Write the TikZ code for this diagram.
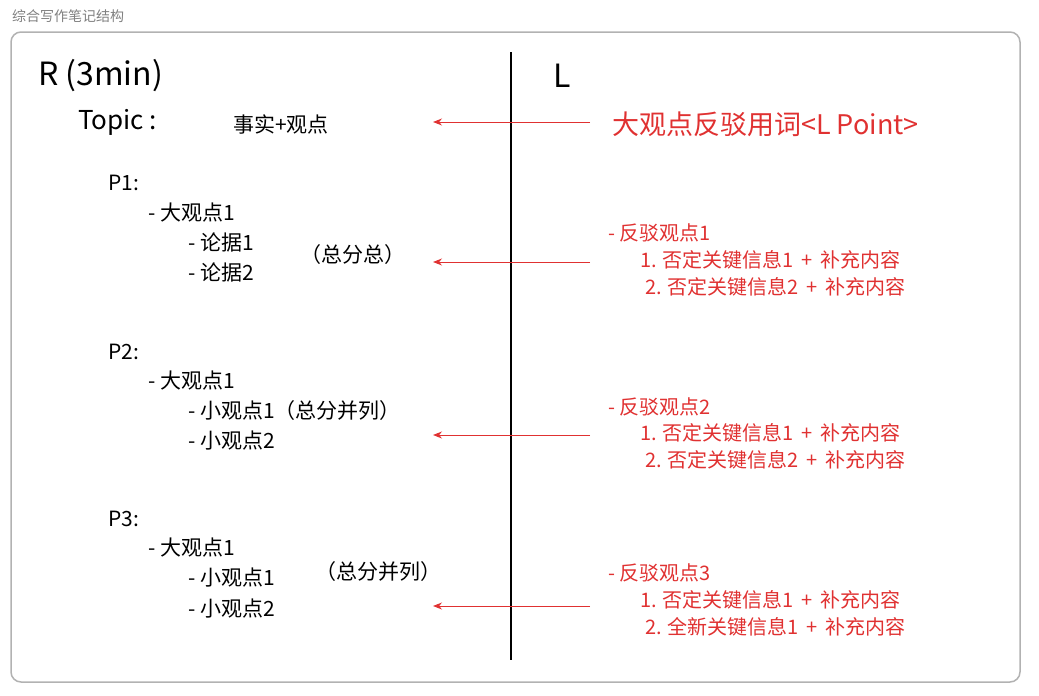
\documentclass[tikz,border=0pt]{standalone}
\usepackage{fontspec}
\setmainfont{Noto Sans CJK SC}
\usetikzlibrary{arrows.meta}
\definecolor{myred}{HTML}{E03131}
\begin{document}
\begin{tikzpicture}[x=1pt,y=-1pt,
  t/.style={anchor=west,inner sep=0pt,font=\fontsize{21}{21}\selectfont},
  r/.style={t,text=myred,font=\fontsize{20}{20}\selectfont},
  arr/.style={myred,line width=1pt,-{Stealth[length=9pt,width=7pt]}}]
\useasboundingbox (0,0) rectangle (1039,696);
\node[anchor=west,inner sep=0pt,text=gray,font=\fontsize{14}{14}\selectfont] (title) at (12,16) {综合写作笔记结构};
\draw[gray!60,line width=1.5pt,rounded corners=10pt] (11,32) rectangle (1020,682);
\coordinate (vt) at (511,52); \coordinate (vb) at (511,660);
\draw[line width=1.2pt] (vt) -- (vb);
\node[t,font=\fontsize{32}{32}\selectfont] (R) at (38,76) {R (3min)};
\node[t,font=\fontsize{32}{32}\selectfont] (L) at (553,76) {L};
\node[t,font=\fontsize{26}{26}\selectfont] (topic) at (78,122) {Topic :};
\node[t] (fact) at (233,124) {事实+观点};
\node[t,text=myred,font=\fontsize{27}{27}\selectfont] (lp) at (612,124) {大观点反驳用词<L Point>};
\coordinate (a0s) at (590,122); \coordinate (a0e) at (433,122);
\draw[arr] (a0s) -- (a0e);
% P1
\node[t] (p1) at (108,183) {P1:};
\node[t] (p1a) at (148,213) {- 大观点1};
\node[t] (p1b) at (188,243) {- 论据1};
\node[t] (p1c) at (188,273) {- 论据2};
\node[t] (p1d) at (300,255) {（总分总）};
\node[r] (r1) at (608,233) {- 反驳观点1};
\node[r] (r1a) at (640,260) {1. 否定关键信息1 \,+\, 补充内容};
\node[r] (r1b) at (645,287) {2. 否定关键信息2 \,+\, 补充内容};
\coordinate (a1s) at (590,262); \coordinate (a1e) at (433,262);
\draw[arr] (a1s) -- (a1e);
% P2
\node[t] (p2) at (108,352) {P2:};
\node[t] (p2a) at (148,381) {- 大观点1};
\node[t] (p2b) at (188,411) {- 小观点1（总分并列）};
\node[t] (p2c) at (188,441) {- 小观点2};
\node[r] (r2) at (608,407) {- 反驳观点2};
\node[r] (r2a) at (640,433) {1. 否定关键信息1 \,+\, 补充内容};
\node[r] (r2b) at (645,460) {2. 否定关键信息2 \,+\, 补充内容};
\coordinate (a2s) at (590,435); \coordinate (a2e) at (433,435);
\draw[arr] (a2s) -- (a2e);
% P3
\node[t] (p3) at (108,519) {P3:};
\node[t] (p3a) at (148,548) {- 大观点1};
\node[t] (p3b) at (188,578) {- 小观点1};
\node[t] (p3c) at (188,609) {- 小观点2};
\node[t] (p3d) at (315,572) {（总分并列）};
\node[r] (r3) at (608,573) {- 反驳观点3};
\node[r] (r3a) at (640,600) {1. 否定关键信息1 \,+\, 补充内容};
\node[r] (r3b) at (645,627) {2. 全新关键信息1 \,+\, 补充内容};
\coordinate (a3s) at (590,606); \coordinate (a3e) at (433,606);
\draw[arr] (a3s) -- (a3e);
\end{tikzpicture}
\end{document}
